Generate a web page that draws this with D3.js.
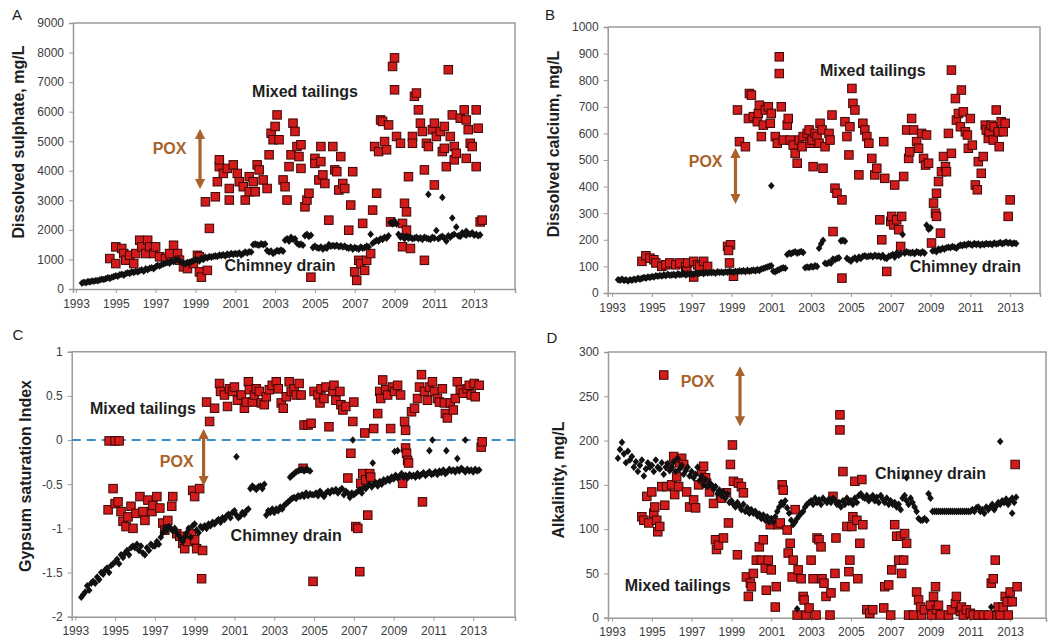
<!DOCTYPE html>
<html>
<head>
<meta charset="utf-8">
<script src="https://cdn.jsdelivr.net/npm/d3@7"></script>
<style>
  body { margin: 0; background: #fff; }
  svg { display: block; }
  text { font-family: "Liberation Sans", Arial, sans-serif; }
</style>
</head>
<body>
<svg id="chart" width="1062" height="643"></svg>
<script>
// ---- time axis ----
const yearTicks = [1993, 1995, 1997, 1999, 2001, 2003, 2005, 2007, 2009, 2011, 2013];

// Chimney drain readings are on a regular grid: one every 0.1 yr from 1993.3.
// An entry may hold two readings (two concurrent sampling points).
const chimneyStart = 1993.3;
const chimneyStep = 0.1;

// ---- A: dissolved sulphate (mg/L) ----
const sulphateTicks = [0, 1000, 2000, 3000, 4000, 5000, 6000, 7000, 8000, 9000];
const sulphateChimney = [
  200,230,210,250,240,270,260,
  290,280,310,330,320,350,380,360,400,420,
  450,430,480,500,470,520,550,530,580,560,
  600,580,620,650,600,680,650,700,720,690,
  750,800,780,820,850,880,900,870,950,920,
  980,1000,950,900,880,850,900,870,920,950,
  1000,980,950,1050,1000,1080,1050,1100,1080,1100,
  1120,1100,1150,1130,1160,1120,1180,1150,1200,1170,
  1200,1180,1220,1150,1200,1250,1220,1260,1250,1500,
  1520,1500,1480,1530,1500,1520,1300,1250,1280,1200,
  1250,1300,1280,1320,1280,1650,1700,1620,1750,1680,
  1700,1550,1500,1520,1480,1800,1850,1780,1820,1400,
  1450,1400,1380,1420,1350,1400,1380,1500,1450,1470,
  1450,1480,1430,1460,1420,1450,1400,1380,1420,1350,
  1400,1380,1350,1420,1380,1400,1450,1420,1850,1550,
  1600,1650,1620,1700,1680,1750,1720,1800,2250,2200,
  2300,2200,1850,1750,1800,1700,1780,1720,1750,1700,
  1720,1750,1700,1730,1680,1750,1720,1700,1680,1750,
  1720,1980,1700,1750,1780,1720,1620,1800,1750,1820,
  1850,2100,1800,1780,1900,1850,1820,1880,1850,1900,
  1820,1850,1800,1830
];
const sulphateChimneyExtra = [[2010.7, 3200], [2011.4, 3100], [2011.9, 2400], [2012.6, 1950]];
const sulphateMixed = [
  [1994.7,1030],[1995.0,1425],[1995.0,860],[1995.3,1370],[1995.4,1200],[1995.5,975],[1995.7,1140],[1995.9,860],
  [1996.0,1200],[1996.2,1650],[1996.3,1425],[1996.5,1200],[1996.6,1650],[1996.7,1425],[1996.9,1200],[1997.0,1425],
  [1997.2,1090],[1997.5,1030],[1997.7,1200],[1997.9,1480],[1998.1,1200],[1998.2,975],[1998.4,750],[1998.6,690],
  [1998.9,860],[1999.1,1140],[1999.2,580],[1999.3,400],[1999.6,630],[1999.2,1090],
  [1999.5,2950],[1999.7,2050],[2000.0,3120],[2000.1,3630],[2000.2,4140],[2000.2,4370],[2000.4,3910],[2000.6,4080],
  [2000.7,3010],[2000.7,3400],[2000.9,4200],[2001.1,3910],[2001.2,3630],[2001.4,3460],[2001.5,3010],[2001.7,3800],
  [2001.7,3290],[2001.9,3630],[2002.0,3290],[2002.1,4200],[2002.2,4030],[2002.4,3690],[2002.6,3400],[2002.7,4540],
  [2002.8,5270],[2002.9,5050],[2003.0,5500],[2003.1,5890],[2003.2,5050],[2003.4,3690],[2003.5,3460],[2003.6,3010],
  [2003.7,4140],[2003.8,4540],[2003.9,5610],[2004.0,5330],[2004.1,4820],[2004.2,4480],[2004.3,4080],[2004.3,4880],
  [2004.5,2780],[2004.6,3010],[2004.7,3240],[2004.8,400],[2005.0,4420],[2005.0,4250],[2005.2,3690],[2005.3,4820],
  [2005.3,4310],[2005.4,3860],[2005.5,3570],[2005.7,2330],[2005.9,4820],[2006.0,4030],[2006.1,3970],[2006.2,3350],
  [2006.3,4480],[2006.4,3570],[2006.5,3400],[2006.7,1990],[2006.8,2840],[2006.9,3970],[2007.0,580],[2007.1,290],
  [2007.2,970],[2007.3,860],[2007.4,2220],[2007.5,630],[2007.6,970],[2007.8,1200],[2007.9,2670],[2008.0,4820],
  [2008.1,3240],[2008.2,4650],[2008.3,5720],[2008.4,5670],[2008.5,4990],[2008.6,4710],[2008.7,5550],[2008.8,2270],
  [2008.9,7530],[2009.0,7820],[2009.0,6740],[2009.1,5160],[2009.3,4930],[2009.4,1430],[2009.4,2220],[2009.5,2900],
  [2009.6,2610],[2009.6,1990],[2009.7,3800],[2009.8,1370],[2009.9,5160],[2009.9,4930],[2010.0,6520],[2010.1,6630],
  [2010.2,6060],[2010.3,5610],[2010.4,5330],[2010.5,970],[2010.5,4030],[2010.6,4930],[2010.7,4820],[2010.9,5390],
  [2011.0,5610],[2011.0,3520],[2011.1,5160],[2011.3,5330],[2011.4,4650],[2011.5,4760],[2011.5,5500],[2011.6,4140],
  [2011.7,7420],[2011.8,5160],[2011.9,5890],[2012.0,4820],[2012.0,4370],[2012.1,4590],[2012.3,5780],[2012.5,6060],
  [2012.6,5720],[2012.6,4420],[2012.7,5390],[2012.8,4930],[2012.9,4820],[2013.1,6060],[2013.1,4140],[2013.2,5440],
  [2013.3,2270],[2013.4,2330]
];

// ---- B: dissolved calcium (mg/L) ----
const calciumTicks = [0, 100, 200, 300, 400, 500, 600, 700, 800, 900, 1000];
const calciumChimney = [
  50,48,52,47,50,45,50,
  48,52,50,55,52,55,58,56,60,58,
  62,60,65,63,66,64,68,65,70,67,
  68,70,66,72,69,70,73,68,72,70,
  72,70,75,72,74,76,73,78,75,77,
  76,78,74,80,77,79,76,80,78,82,
  80,78,82,80,83,81,84,80,85,82,
  84,86,83,88,85,90,92,95,98,100,
  102,82,80,85,88,92,95,93,145,150,
  148,152,155,150,153,156,152,95,98,96,
  100,98,102,100,168,185,198,112,110,115,
  112,128,125,130,132,196,198,195,130,125,
  120,128,132,125,135,130,138,140,136,138,
  140,136,142,138,140,135,142,132,130,138,
  140,145,135,150,142,148,220,150,155,152,
  150,153,148,155,152,150,155,150,255,240,
  245,158,160,155,165,162,168,165,170,172,
  170,175,172,168,176,180,178,182,180,185,
  183,180,186,182,185,180,184,182,186,183,
  185,182,188,184,186,190,185,188,192,187,
  190,185,188,186
];
const calciumChimneyExtra = [[2001.0, 403]];
const calciumMixed = [
  [1994.5,119],[1994.7,140],[1994.9,131],[1995.1,125],[1995.2,113],[1995.5,100],[1995.7,106],[1995.9,113],
  [1996.2,106],[1996.4,113],[1996.7,100],[1996.8,113],[1997.1,119],[1997.3,106],[1997.4,100],[1997.6,119],
  [1997.8,100],[1996.75,81],[1997.1,60],[1998.8,175],[1998.95,181],[1998.85,160],[1998.9,113],[1999.1,63],
  [1999.3,688],[1999.4,569],[1999.7,550],[1999.85,656],[1999.9,750],[2000.0,744],[2000.1,663],[2000.3,644],
  [2000.35,675],[2000.4,706],[2000.5,588],[2000.6,631],[2000.7,688],[2000.85,700],[2000.95,638],[2001.0,675],
  [2001.2,588],[2001.3,563],[2001.4,888],[2001.4,825],[2001.5,700],[2001.6,575],[2001.8,631],[2001.85,656],
  [2001.95,575],[2002.1,556],[2002.2,525],[2002.3,488],[2002.4,575],[2002.55,550],[2002.6,588],[2002.8,600],
  [2002.9,613],[2002.95,563],[2003.05,575],[2003.1,475],[2003.2,600],[2003.3,588],[2003.4,563],[2003.45,638],
  [2003.55,613],[2003.6,469],[2003.7,550],[2003.9,600],[2003.95,575],[2004.05,669],[2004.2,394],[2004.3,375],
  [2004.1,231],[2004.55,350],[2004.55,56],[2004.7,644],[2004.8,588],[2004.9,519],[2004.95,625],[2005.05,769],
  [2005.1,713],[2005.2,688],[2005.4,444],[2005.6,638],[2005.7,613],[2005.8,588],[2005.9,563],[2006.05,506],
  [2006.2,444],[2006.3,469],[2006.45,275],[2006.55,200],[2006.65,569],[2006.7,431],[2006.8,81],[2007.0,269],
  [2007.05,288],[2007.15,256],[2007.2,406],[2007.3,275],[2007.4,238],[2007.5,175],[2007.55,288],[2007.65,438],
  [2007.8,613],[2007.9,506],[2007.95,531],[2008.05,656],[2008.15,613],[2008.3,569],[2008.4,544],[2008.55,600],
  [2008.65,506],[2008.75,481],[2008.8,594],[2008.9,488],[2009.05,188],[2009.15,338],[2009.25,300],[2009.3,288],
  [2009.3,375],[2009.4,419],[2009.5,225],[2009.55,456],[2009.65,513],[2009.75,475],[2009.8,456],[2009.9,600],
  [2010.05,525],[2010.05,838],[2010.25,731],[2010.3,650],[2010.4,675],[2010.5,625],[2010.55,763],[2010.65,681],
  [2010.75,606],[2010.85,594],[2010.9,544],[2011.0,656],[2011.1,556],[2011.25,406],[2011.35,388],[2011.4,494],
  [2011.55,450],[2011.65,513],[2011.75,631],[2011.8,613],[2011.9,581],[2011.95,606],[2012.05,631],[2012.15,575],
  [2012.2,625],[2012.3,688],[2012.4,606],[2012.45,550],[2012.55,644],[2012.65,606],[2012.75,638],[2012.9,288],
  [2013.0,350]
];

// ---- C: gypsum saturation index ----
const gypsumTicks = [-2, -1.5, -1, -0.5, 0, 0.5, 1];
const gypsumChimney = [
  -1.78,-1.75,-1.72,-1.65,-1.7,-1.62,-1.6,
  -1.62,-1.55,-1.58,-1.5,-1.52,-1.47,-1.45,-1.5,-1.42,-1.4,
  -1.38,-1.35,-1.4,-1.3,-1.33,-1.28,-1.25,-1.3,-1.22,-1.2,
  -1.22,-1.18,-1.25,-1.2,-1.28,-1.3,-1.22,-1.25,-1.18,-1.2,
  -1.2,-1.15,-1.18,-1.1,-1.05,-1.0,-1.02,-0.98,-1.0,-1.03,
  -1.0,-1.05,-1.08,-1.12,-1.15,-1.1,-1.05,-1.0,-1.1,-0.97,
  -0.95,-1.02,-1.05,-0.98,-1.0,-0.97,-1.0,-0.95,-0.97,-0.93,
  -0.95,-0.92,-0.9,-0.93,-0.88,-0.9,-0.86,-0.84,-0.88,-0.82,
  -0.8,-0.85,-0.88,-0.86,-0.82,-0.84,-0.8,-0.78,-0.55,-0.52,
  -0.54,-0.56,-0.53,-0.52,-0.55,-0.5,-0.85,-0.8,-0.82,-0.78,
  -0.82,-0.78,-0.8,-0.76,-0.78,-0.74,-0.72,-0.7,[-0.68,-0.42],[-0.66,-0.4],
  [-0.65,-0.38],[-0.66,-0.36],[-0.63,-0.35],[-0.64,-0.34],[-0.62,-0.33],[-0.64,-0.35],[-0.6,-0.33],[-0.63,-0.34],[-0.61,-0.35],-0.62,
  -0.62,-0.6,-0.63,-0.58,-0.61,-0.64,-0.6,-0.58,-0.6,-0.57,
  -0.58,-0.56,-0.6,-0.57,-0.55,-0.62,-0.58,-0.6,-0.65,-0.6,
  -0.62,-0.6,-0.58,-0.56,-0.6,-0.54,-0.55,-0.52,-0.5,-0.53,
  -0.5,-0.48,-0.52,-0.47,-0.5,-0.45,-0.47,-0.44,-0.46,-0.42,
  -0.44,-0.4,-0.43,-0.41,-0.38,-0.42,-0.4,-0.43,-0.39,-0.41,
  -0.4,-0.42,-0.38,-0.41,-0.39,-0.37,-0.4,-0.38,-0.36,-0.39,
  -0.38,-0.36,-0.39,-0.35,-0.37,-0.34,-0.38,-0.36,-0.33,-0.35,
  -0.34,-0.36,-0.33,-0.35,-0.32,-0.34,-0.36,-0.33,-0.35,-0.34,
  -0.36,-0.33,-0.35,-0.34
];
const gypsumChimneyExtra = [
  [2001.1,-0.19],[2006.95,0.0],[2007.95,-0.26],[2009.05,-0.13],[2009.2,-0.12],
  [2010.8,-0.12],[2010.95,0.0],[2011.65,-0.12],[2012.2,-0.21],[2012.6,0.0]
];
const gypsumMixed = [
  [1994.7,-0.01],[1995.0,-0.01],[1995.2,-0.01],
  [1994.65,-0.79],[1994.9,-0.55],[1995.0,-0.72],[1995.15,-0.7],[1995.3,-0.81],[1995.4,-0.92],[1995.55,-0.98],
  [1995.65,-0.87],[1995.9,-1.0],[1995.8,-0.75],[1996.05,-0.83],[1996.25,-0.64],[1996.4,-0.81],[1996.5,-0.91],
  [1996.65,-0.68],[1996.85,-0.81],[1996.9,-0.74],[1997.1,-0.64],[1997.25,-0.77],[1997.4,-0.94],[1997.5,-1.02],
  [1997.65,-0.91],[1997.85,-0.75],[1997.9,-0.64],[1998.1,-1.06],[1998.25,-1.09],[1998.4,-1.17],[1998.5,-1.23],
  [1998.65,-1.15],[1998.85,-1.06],[1999.0,-1.13],[1999.1,-1.23],[1998.9,-0.57],[1999.0,-0.64],[1999.25,-0.55],
  [1999.35,-1.57],[1999.4,-1.25],[1999.6,0.43],[1999.75,0.21],[2000.0,0.36],
  [2000.25,0.64],[2000.3,0.55],[2000.5,0.51],[2000.65,0.38],[2000.75,0.58],[2000.9,0.55],[2001.0,0.6],
  [2001.15,0.45],[2001.35,0.51],[2001.5,0.36],[2001.6,0.43],[2001.7,0.66],[2001.75,0.57],[2001.9,0.43],
  [2002.0,0.51],[2002.1,0.58],[2002.25,0.55],[2002.35,0.42],[2002.5,0.4],[2002.6,0.49],[2002.75,0.57],
  [2002.9,0.62],[2003.1,0.66],[2003.2,0.58],[2003.35,0.42],[2003.45,0.36],[2003.6,0.49],[2003.75,0.66],
  [2003.85,0.55],[2004.0,0.58],[2004.1,0.51],[2004.25,0.64],[2004.35,0.51],[2004.5,0.17],[2004.7,0.17],
  [2004.85,0.19],[2004.95,-1.6],[2004.45,-0.32],[2005.0,0.55],[2005.2,0.51],[2005.3,0.42],[2005.35,0.58],
  [2005.5,0.47],[2005.6,0.6],[2005.75,0.15],[2005.95,0.55],[2006.0,0.62],[2006.1,0.45],[2006.3,0.55],
  [2006.35,0.4],[2006.45,0.34],[2006.6,0.38],[2006.7,-0.43],[2006.85,-0.15],[2006.95,0.21],[2007.0,0.43],
  [2007.1,-0.98],[2007.2,-1.0],[2007.3,-1.49],[2007.35,-0.49],[2007.45,-0.38],[2007.55,0.08],[2007.6,-0.45],
  [2007.7,-0.85],[2007.8,-0.38],[2007.85,-0.42],[2008.0,0.13],[2008.2,0.3],[2008.3,0.55],[2008.35,0.47],
  [2008.45,0.68],[2008.6,0.57],[2008.7,0.51],[2008.85,0.13],[2008.95,0.6],[2009.05,0.55],[2009.2,0.62],
  [2009.35,0.51],[2009.45,-0.49],[2009.55,0.21],[2009.6,0.11],[2009.6,-0.09],[2009.65,-0.15],[2009.7,-0.23],
  [2009.75,-0.26],[2009.9,0.32],[2010.05,0.36],[2010.2,0.47],[2010.3,0.6],[2010.4,0.74],[2010.45,-0.7],
  [2010.55,0.55],[2010.7,0.45],[2010.8,0.6],[2010.95,0.66],[2011.05,0.55],[2011.2,0.47],[2011.3,0.43],
  [2011.45,0.58],[2011.55,0.42],[2011.6,0.3],[2011.7,0.25],[2011.85,0.42],[2012.0,0.34],[2012.1,0.47],
  [2012.2,0.66],[2012.35,0.57],[2012.5,0.53],[2012.7,0.58],[2012.8,0.62],[2012.9,0.51],[2013.05,0.64],
  [2013.1,0.49],[2013.3,0.62],[2013.4,-0.08],[2013.45,-0.02]
];

// ---- D: alkalinity (mg/L) ----
const alkalinityTicks = [0, 50, 100, 150, 200, 250, 300];
const alkalinityChimney = [
  180,190,198,185,175,188,178,
  182,170,176,165,172,178,160,168,175,170,
  172,165,178,170,168,175,162,170,174,166,
  170,176,165,180,168,172,162,166,170,160,
  165,158,162,170,155,160,150,156,148,152,
  150,145,148,140,144,138,142,135,140,130,
  132,128,125,130,126,122,128,120,124,118,
  122,118,120,115,117,112,116,110,114,108,
  112,108,114,120,125,130,128,132,124,118,
  110,105,108,112,115,118,120,125,128,130,
  132,128,135,130,133,128,135,132,130,134,
  130,135,132,128,130,125,132,128,135,130,
  132,128,135,130,138,140,136,135,138,132,
  135,138,132,136,130,138,134,130,135,128,
  132,128,130,125,128,122,135,138,132,128,
  135,130,125,120,112,110,110,112,110,140,
  135,120,120,120,120,120,120,120,120,120,
  120,120,120,120,120,120,120,120,120,120,
  120,122,120,124,125,120,122,118,125,122,
  125,128,122,126,130,128,132,130,134,128,
  132,135,130,136
];
const alkalinityChimneyExtra = [[2002.3,10],[2012.05,12],[2012.5,199],[2013.1,118],[2007.8,158]];
const alkalinityMixed = [
  [1995.6,274],[1994.5,114],[1994.6,110],[1994.75,137],[1994.85,107],[1995.0,142],[1995.1,118],[1995.15,125],
  [1995.25,110],[1995.3,97],[1995.4,103],[1995.5,148],[1995.65,127],[1995.75,148],[1995.9,171],[1996.0,150],
  [1996.1,182],[1996.15,139],[1996.25,159],[1996.35,148],[1996.4,175],[1996.5,180],[1996.6,173],[1996.75,142],
  [1996.9,125],[1997.1,133],[1997.2,124],[1997.35,150],[1997.5,165],[1997.6,171],[1997.7,158],[1997.75,152],
  [1997.9,142],[1998.1,129],[1998.2,88],[1998.25,77],[1998.35,82],[1998.45,139],[1998.5,135],[1998.6,90],
  [1998.75,141],[1998.85,107],[1998.95,173],[1999.05,195],[1999.1,154],[1999.3,71],[1999.35,152],[1999.5,148],
  [1999.6,141],[1999.75,46],[1999.85,24],[1999.95,39],[2000.0,35],[2000.1,50],[2000.25,65],[2000.4,80],
  [2000.5,65],[2000.6,88],[2000.7,56],[2000.75,31],[2000.85,65],[2000.95,105],[2001.0,54],[2001.2,12],
  [2001.25,35],[2001.35,105],[2001.45,107],[2001.55,150],[2001.6,144],[2001.8,99],[2001.85,73],[2001.95,84],
  [2002.05,46],[2002.1,65],[2002.2,122],[2002.3,3],[2002.35,54],[2002.5,44],[2002.6,24],[2002.65,20],
  [2002.75,3],[2002.9,11],[2003.0,65],[2003.1,44],[2003.25,3],[2003.3,90],[2003.4,88],[2003.5,80],
  [2003.55,44],[2003.65,39],[2003.75,24],[2003.95,3],[2004.0,28],[2004.1,137],[2004.2,50],[2004.25,90],
  [2004.45,229],[2004.45,212],[2004.6,165],[2004.7,35],[2004.8,103],[2004.9,52],[2004.95,65],[2005.05,103],
  [2005.1,114],[2005.2,154],[2005.3,110],[2005.35,44],[2005.45,84],[2005.55,156],[2005.6,105],[2005.8,9],
  [2005.95,5],[2006.1,9],[2006.65,11],[2006.7,35],[2006.9,37],[2007.0,3],[2007.05,54],[2007.2,105],
  [2007.3,92],[2007.4,65],[2007.5,92],[2007.55,50],[2007.65,65],[2007.7,95],[2007.8,84],[2007.9,3],
  [2008.15,3],[2008.3,29],[2008.4,20],[2008.5,12],[2008.55,3],[2008.7,9],[2009.0,14],[2009.05,3],
  [2009.15,24],[2009.25,35],[2009.3,9],[2009.4,14],[2009.5,3],[2009.75,77],[2009.9,3],[2010.05,9],
  [2010.25,16],[2010.3,24],[2010.5,7],[2010.55,12],[2010.65,3],[2010.8,9],[2011.0,5],[2011.15,3],
  [2011.4,3],[2011.65,3],[2011.9,3],[2012.05,39],[2012.15,44],[2012.25,65],[2012.35,3],[2012.4,12],
  [2012.5,3],[2012.65,12],[2012.75,24],[2012.85,18],[2012.9,3],[2013.0,29],[2013.1,18],[2013.25,173],
  [2013.35,35]
];

// ---- styling ----
const RED_FILL = "#d31b1b";
const RED_EDGE = "#3b0606";
const BLACK = "#111";
const AXIS_GREY = "#9a9a9a";
const POX_BROWN = "#a8622a";
const TEXT_DARK = "#1e1e1e";

// Panel layout (pixel boxes) and annotation anchors (in data units)
const panels = [
  {
    letter: "A", letterXY: [17, 16], title: "Dissolved sulphate, mg/L", titleXY: [20, 142],
    box: { left: 73, top: 23, right: 515, bottom: 289 },
    xDomain: [1992.85, 2015.05], yDomain: [0, 9000], yTicks: sulphateTicks,
    chimney: sulphateChimney, extra: sulphateChimneyExtra, mixed: sulphateMixed,
    notes: [
      { text: "Mixed tailings", x: 2004.5, y: 6630 },
      { text: "Chimney drain", x: 2003.25, y: 745 }
    ],
    pox: { x: 1997.7, y: 4700 }, arrow: { x: 1999.23, y1: 5450, y2: 3350 }
  },
  {
    letter: "B", letterXY: [550, 16], title: "Dissolved calcium, mg/L", titleXY: [555, 144],
    box: { left: 607.7, top: 27, right: 1040, bottom: 293 },
    xDomain: [1992.78, 2014.5], yDomain: [0, 1000], yTicks: calciumTicks,
    chimney: calciumChimney, extra: calciumChimneyExtra, mixed: calciumMixed,
    notes: [
      { text: "Mixed tailings", x: 2006.1, y: 831 },
      { text: "Chimney drain", x: 2010.75, y: 94 }
    ],
    pox: { x: 1997.7, y: 489 }, arrow: { x: 1999.2, y1: 549, y2: 331 }
  },
  {
    letter: "C", letterXY: [18, 336], title: "Gypsum saturation Index", titleXY: [27, 476],
    box: { left: 71.7, top: 351.7, right: 515, bottom: 616.7 },
    xDomain: [1992.82, 2015.1], yDomain: [-2, 1], yTicks: gypsumTicks,
    chimney: gypsumChimney, extra: gypsumChimneyExtra, mixed: gypsumMixed,
    notes: [
      { text: "Mixed tailings", x: 1996.4, y: 0.34 },
      { text: "Chimney drain", x: 2003.6, y: -1.1 }
    ],
    pox: { x: 1998.1, y: -0.26 }, arrow: { x: 1999.45, y1: 0.136, y2: -0.53 },
    zeroLine: true
  },
  {
    letter: "D", letterXY: [552, 339], title: "Alkalinity, mg/L", titleXY: [560, 480],
    box: { left: 608, top: 352, right: 1046, bottom: 617.7 },
    xDomain: [1992.8, 2014.8], yDomain: [0, 300], yTicks: alkalinityTicks,
    chimney: alkalinityChimney, extra: alkalinityChimneyExtra, mixed: alkalinityMixed,
    notes: [
      { text: "Chimney drain", x: 2009.0, y: 161 },
      { text: "Mixed tailings", x: 1996.3, y: 35 }
    ],
    pox: { x: 1997.3, y: 265 }, arrow: { x: 1999.43, y1: 285, y2: 215 }
  }
];

const svg = d3.select("#chart");
svg.append("rect").attr("width", 1062).attr("height", 643).attr("fill", "#fff");

const defs = svg.append("defs");
const marker = defs.append("marker")
  .attr("id", "poxHead").attr("viewBox", "0 0 10 10")
  .attr("refX", 5).attr("refY", 5)
  .attr("markerWidth", 3.2).attr("markerHeight", 3.2)
  .attr("orient", "auto-start-reverse")
  .attr("markerUnits", "strokeWidth");
marker.append("path").attr("d", "M0,0 L10,5 L0,10 Z").attr("fill", POX_BROWN);

// flatten the regular-grid chimney series into [year, value] points
function chimneyPoints(values, extra) {
  const pts = [];
  values.forEach((v, i) => {
    const yr = chimneyStart + i * chimneyStep;
    if (v === null) return;
    if (Array.isArray(v)) v.forEach(u => pts.push([yr, u]));
    else pts.push([yr, v]);
  });
  return pts.concat(extra);
}

const diamond = "M0,-3.8 L3.3,0 L0,3.8 L-3.3,0 Z";
const SQ = 8.5;

panels.forEach(p => {
  const { left, top, right, bottom } = p.box;
  const x = d3.scaleLinear().domain(p.xDomain).range([left, right]);
  const y = d3.scaleLinear().domain(p.yDomain).range([bottom, top]);
  const g = svg.append("g");

  // frame (top and right edges)
  g.append("path")
    .attr("d", `M${left},${top} H${right} V${bottom}`)
    .attr("fill", "none").attr("stroke", AXIS_GREY).attr("stroke-width", 1.5);

  // y axis
  const yAxis = g.append("g").attr("transform", `translate(${left},0)`)
    .call(d3.axisLeft(y).tickValues(p.yTicks).tickSize(4).tickPadding(5)
      .tickFormat(d => String(d)));
  // x axis
  const xAxis = g.append("g").attr("transform", `translate(0,${bottom})`)
    .call(d3.axisBottom(x).tickValues(yearTicks).tickSize(4).tickPadding(6)
      .tickFormat(d => String(d)));
  [yAxis, xAxis].forEach(ax => {
    ax.select(".domain").attr("stroke", AXIS_GREY).attr("stroke-width", 1.5);
    ax.selectAll(".tick line").attr("stroke", AXIS_GREY);
    ax.selectAll("text").attr("fill", "#3c3c3c").style("font-size", "12px");
  });

  // zero line for the saturation index
  if (p.zeroLine) {
    g.append("line")
      .attr("x1", left).attr("x2", right)
      .attr("y1", y(0)).attr("y2", y(0))
      .attr("stroke", "#3b8fc4").attr("stroke-width", 2)
      .attr("stroke-dasharray", "9,6");
  }

  // mixed tailings (red squares)
  g.append("g").selectAll("rect").data(p.mixed).join("rect")
    .attr("x", d => x(d[0]) - SQ / 2).attr("y", d => y(d[1]) - SQ / 2)
    .attr("width", SQ).attr("height", SQ)
    .attr("fill", RED_FILL).attr("stroke", RED_EDGE).attr("stroke-width", 1);

  // chimney drain (black diamonds)
  g.append("g").selectAll("path").data(chimneyPoints(p.chimney, p.extra)).join("path")
    .attr("d", diamond)
    .attr("transform", d => `translate(${x(d[0])},${y(d[1])})`)
    .attr("fill", BLACK);

  // series labels
  p.notes.forEach(n => {
    g.append("text").attr("x", x(n.x)).attr("y", y(n.y))
      .attr("text-anchor", "middle").attr("dominant-baseline", "middle")
      .attr("font-weight", "bold").attr("font-size", 16).attr("fill", TEXT_DARK)
      .text(n.text);
  });

  // POX label and double arrow
  g.append("text").attr("x", x(p.pox.x)).attr("y", y(p.pox.y))
    .attr("text-anchor", "middle").attr("dominant-baseline", "middle")
    .attr("font-weight", "bold").attr("font-size", 16).attr("fill", POX_BROWN)
    .text("POX");
  g.append("line")
    .attr("x1", x(p.arrow.x)).attr("x2", x(p.arrow.x))
    .attr("y1", y(p.arrow.y1) + 6).attr("y2", y(p.arrow.y2) - 6)
    .attr("stroke", POX_BROWN).attr("stroke-width", 3.2)
    .attr("marker-start", "url(#poxHead)").attr("marker-end", "url(#poxHead)");

  // axis title and panel letter
  g.append("text")
    .attr("transform", `translate(${p.titleXY[0]},${p.titleXY[1]}) rotate(-90)`)
    .attr("text-anchor", "middle").attr("dominant-baseline", "middle")
    .attr("font-weight", "bold").attr("font-size", 16).attr("fill", TEXT_DARK)
    .text(p.title);
  g.append("text").attr("x", p.letterXY[0]).attr("y", p.letterXY[1])
    .attr("text-anchor", "middle").attr("dominant-baseline", "middle")
    .attr("font-size", 15).attr("fill", TEXT_DARK)
    .text(p.letter);
});
</script>
</body>
</html>
